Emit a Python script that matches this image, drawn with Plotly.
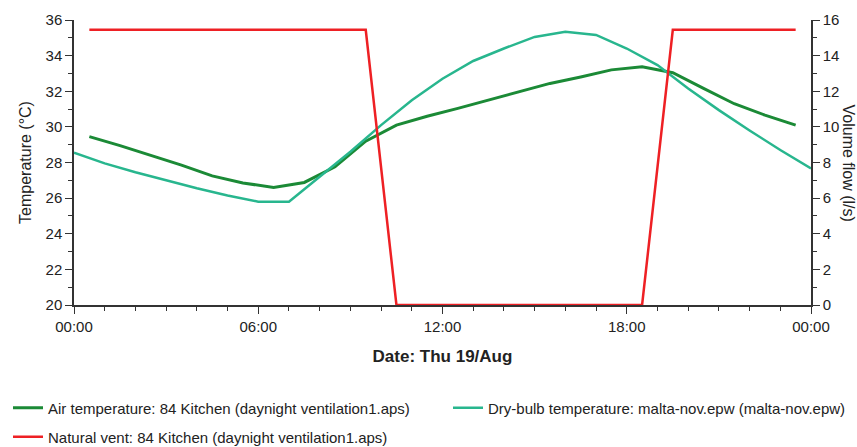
import plotly.graph_objects as go

hours_half = [h + 0.5 for h in range(24)]
hours_full = list(range(25))

air_temp = [29.45, 28.95, 28.4, 27.85, 27.25, 26.85, 26.6, 26.88, 27.76, 29.2,
            30.1, 30.6, 31.04, 31.5, 31.97, 32.44, 32.8, 33.2, 33.38, 33.04,
            32.16, 31.3, 30.66, 30.1]
dry_bulb = [28.55, 27.95, 27.45, 27.0, 26.55, 26.15, 25.8, 25.8, 27.2, 28.6,
            30.1, 31.5, 32.7, 33.7, 34.4, 35.05, 35.34, 35.16, 34.4, 33.47,
            32.16, 30.94, 29.8, 28.7, 27.67]
nat_vent = [15.45] * 10 + [0.0] * 9 + [15.45] * 5

x_tickvals = [0, 6, 12, 18, 24]
x_ticktext = ["00:00", "06:00", "12:00", "18:00", "00:00"]

names = ["Air temperature: 84 Kitchen (daynight ventilation1.aps)",
         "Dry-bulb temperature: malta-nov.epw (malta-nov.epw)",
         "Natural vent: 84 Kitchen (daynight ventilation1.aps)"]

FONT = "Liberation Sans, Arial, sans-serif"

fig = go.Figure()
fig.add_trace(go.Scatter(x=hours_half, y=air_temp, mode="lines", name=names[0],
                         line=dict(color="#1b8a36", width=3), legend="legend"))
fig.add_trace(go.Scatter(x=hours_full, y=dry_bulb, mode="lines", name=names[1],
                         line=dict(color="#28b68e", width=2.5), legend="legend2"))
fig.add_trace(go.Scatter(x=hours_half, y=nat_vent, mode="lines", name=names[2],
                         line=dict(color="#ee2024", width=2.5), yaxis="y2", legend="legend3"))

def px_x(p):
    return (p - 74) / 737.0

def px_y(p):
    return (305 - p) / 285.0

leg_common = dict(xanchor="left", yanchor="middle", font=dict(size=15, family=FONT, color="#222"),
                  bgcolor="rgba(0,0,0,0)", borderwidth=0, itemwidth=30)

fig.update_layout(
    width=857, height=447,
    margin=dict(l=74, r=46, t=20, b=142, autoexpand=False),
    paper_bgcolor="white", plot_bgcolor="white",
    font=dict(family=FONT, size=15, color="#222"),
    xaxis=dict(range=[0, 24], tickvals=x_tickvals, ticktext=x_ticktext,
               showgrid=False, zeroline=False, showline=True, linecolor="#333",
               linewidth=1.5, ticks="outside", ticklen=7, tickcolor="#333",
               minor=dict(ticks="outside", ticklen=4, dtick=1, tickcolor="#333", showgrid=False),
               title=dict(text="<b>Date: Thu 19/Aug</b>", font=dict(size=17), standoff=16)),
    yaxis=dict(range=[20, 36], dtick=2, showgrid=False, zeroline=False, showline=True,
               linecolor="#333", linewidth=1.5, ticks="outside", ticklen=7, tickcolor="#333",
               minor=dict(ticks="outside", ticklen=4, dtick=1, tickcolor="#333", showgrid=False),
               title=dict(text="Temperature (°C)", font=dict(size=16), standoff=10)),
    yaxis2=dict(range=[0, 16], dtick=2, overlaying="y", side="right", showgrid=False,
                zeroline=False, showline=True, linecolor="#333", linewidth=1.5,
                ticks="outside", ticklen=7, tickcolor="#333",
                minor=dict(ticks="outside", ticklen=4, dtick=1, tickcolor="#333", showgrid=False)),
    legend=dict(x=px_x(8), y=px_y(408), **leg_common),
    legend2=dict(x=px_x(448), y=px_y(408), **leg_common),
    legend3=dict(x=px_x(8), y=px_y(437), **leg_common),
    showlegend=True,
)
fig.add_annotation(text="Volume flow (l/s)", textangle=90, xref="paper", yref="paper",
                   x=1.0, xshift=37, xanchor="center", y=0.5, yanchor="middle",
                   showarrow=False, font=dict(size=16))

fig.write_html("out.html")
